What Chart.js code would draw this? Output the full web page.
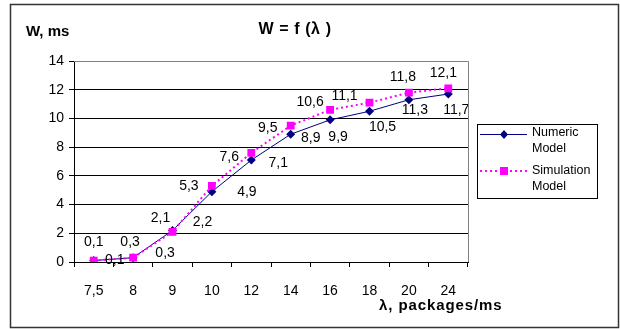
<!DOCTYPE html>
<html>
<head>
<meta charset="utf-8">
<script src="https://cdn.jsdelivr.net/npm/chart.js@4/dist/chart.umd.min.js"></script>
<style>
  html, body { margin: 0; padding: 0; background: #fff; }
  #wrap { position: relative; width: 620px; height: 329px; }
  canvas { display: block; }
</style>
</head>
<body>
<div id="wrap"><canvas id="c" width="620" height="329"></canvas></div>
<script>
// Arrival rate λ (packages/ms) and mean waiting time W (ms)
const lambdaLabels = ['7,5', '8', '9', '10', '12', '14', '16', '18', '20', '24'];
const numericModel = [0.1, 0.3, 2.2, 4.9, 7.1, 8.9, 9.9, 10.5, 11.3, 11.7];
const simulationModel = [0.1, 0.3, 2.1, 5.3, 7.6, 9.5, 10.6, 11.1, 11.8, 12.1];
const yTicks = [0, 2, 4, 6, 8, 10, 12, 14];

const FONT = '"Liberation Sans", Arial, sans-serif';
const NAVY = '#000080';
const MAGENTA = '#FF00FF';

const fmt = v => String(v).replace('.', ',');

// Value labels, drawn next to each point; nudges keep them clear of the lines
const valueLabels = {
  id: 'valueLabels',
  afterDatasetsDraw(chart, args, opts) {
    const ctx = chart.ctx;
    ctx.save();
    ctx.font = '14px ' + FONT;
    ctx.fillStyle = '#000';
    ctx.textAlign = 'center';
    ctx.textBaseline = 'middle';
    chart.data.datasets.forEach((ds, di) => {
      const meta = chart.getDatasetMeta(di);
      const nudge = opts.nudges[ds.key];
      meta.data.forEach((pt, i) => {
        const [dx, dy] = nudge[i];
        ctx.fillText(fmt(ds.data[i]), pt.x + dx, pt.y + dy);
      });
    });
    ctx.restore();
  }
};

// Frame, titles and the boxed legend
const decorations = {
  id: 'decorations',
  beforeDraw(chart) {
    const ctx = chart.ctx;
    ctx.save();
    ctx.fillStyle = '#fff';
    ctx.fillRect(0, 0, chart.width, chart.height);
    ctx.restore();
  },
  afterDraw(chart) {
    const ctx = chart.ctx;
    const area = chart.chartArea;
    ctx.save();
    // outer frame
    ctx.strokeStyle = '#333';
    ctx.lineWidth = 1.5;
    ctx.strokeRect(10.5, 4.5, 608, 323);

    // plot border (top and right)
    ctx.strokeStyle = '#808080';
    ctx.lineWidth = 1;
    ctx.beginPath();
    ctx.moveTo(area.left, Math.round(area.top) + 0.5);
    ctx.lineTo(Math.round(area.right) + 0.5, Math.round(area.top) + 0.5);
    ctx.lineTo(Math.round(area.right) + 0.5, area.bottom);
    ctx.stroke();

    ctx.fillStyle = '#000';
    ctx.textBaseline = 'middle';
    // chart title
    ctx.font = 'bold 16px ' + FONT;
    ctx.letterSpacing = '0.6px';
    ctx.textAlign = 'center';
    ctx.fillText('W = f (λ )', 295, 30);
    // axis titles
    ctx.font = 'bold 15px ' + FONT;
    ctx.textAlign = 'left';
    ctx.letterSpacing = '0px';
    ctx.fillText('W, ms', 26, 32);
    ctx.letterSpacing = '0.9px';
    ctx.fillText('λ, packages/ms', 379, 306);
    ctx.letterSpacing = '0px';

    // legend
    const lx = 477, ly = 124, lw = 120, lh = 74;
    ctx.strokeStyle = '#000';
    ctx.lineWidth = 1;
    ctx.strokeRect(lx + 0.5, ly + 0.5, lw, lh);
    ctx.font = '12.5px ' + FONT;
    // numeric entry
    ctx.strokeStyle = NAVY;
    ctx.beginPath();
    ctx.moveTo(480, 134.5); ctx.lineTo(527, 134.5); ctx.stroke();
    ctx.fillStyle = NAVY;
    ctx.beginPath();
    ctx.moveTo(504, 130); ctx.lineTo(508, 134.5); ctx.lineTo(504, 139); ctx.lineTo(500, 134.5);
    ctx.closePath(); ctx.fill();
    // simulation entry
    ctx.strokeStyle = MAGENTA;
    ctx.lineWidth = 2;
    ctx.setLineDash([2, 3]);
    ctx.beginPath();
    ctx.moveTo(480, 171); ctx.lineTo(527, 171); ctx.stroke();
    ctx.setLineDash([]);
    ctx.fillStyle = MAGENTA;
    ctx.fillRect(500, 167, 8, 8);
    ctx.fillStyle = '#000';
    ctx.fillText('Numeric', 532, 133);
    ctx.fillText('Model', 532, 149);
    ctx.fillText('Simulation', 532, 171);
    ctx.fillText('Model', 532, 187);
    ctx.restore();
  }
};

new Chart(document.getElementById('c'), {
  type: 'line',
  data: {
    labels: lambdaLabels,
    datasets: [
      {
        key: 'sim',
        label: 'Simulation Model',
        data: simulationModel,
        borderColor: MAGENTA,
        backgroundColor: MAGENTA,
        borderWidth: 2,
        borderDash: [2, 3],
        pointStyle: 'rect',
        pointRadius: 5.5,
        pointBorderWidth: 0,
        tension: 0
      },
      {
        key: 'num',
        label: 'Numeric Model',
        data: numericModel,
        borderColor: NAVY,
        backgroundColor: NAVY,
        borderWidth: 1,
        pointStyle: 'rectRot',
        pointRadius: 4.5,
        pointBorderWidth: 0,
        tension: 0
      }
    ]
  },
  options: {
    responsive: false,
    animation: false,
    layout: { padding: { left: 10, right: 152, top: 61, bottom: 0 } },
    plugins: {
      legend: { display: false },
      title: { display: false },
      tooltip: { enabled: false },
      valueLabels: {
        nudges: {
          num: [[21, 0], [32, -5], [30, -8], [35, 0], [27, 3], [20, 4], [8, 17], [13, 16], [6, 10], [8, 16]],
          sim: [[0, -18], [-3, -16], [-12, -14], [-23, 0], [-22, 4], [-23, 3], [-20, -8], [-25, -6], [-6, -15], [-5, -15]]
        }
      }
    },
    scales: {
      x: {
        type: 'category',
        offset: true,
        afterFit(scale) { scale.height = 67; },
        grid: {
          offset: true,
          drawOnChartArea: false,
          drawTicks: true,
          tickLength: 5,
          color: '#000'
        },
        border: { color: '#000', width: 1 },
        ticks: {
          color: '#000',
          font: { family: FONT, size: 14 },
          padding: 16,
          maxRotation: 0,
          autoSkip: false
        }
      },
      y: {
        min: 0,
        max: 14,
        afterFit(scale) { scale.width = 64; },
        afterBuildTicks(scale) { scale.ticks = yTicks.map(v => ({ value: v })); },
        grid: {
          color: '#000',
          lineWidth: 1,
          drawTicks: true,
          tickLength: 5
        },
        border: { color: '#000', width: 1 },
        ticks: {
          color: '#000',
          font: { family: FONT, size: 14 },
          padding: 5
        }
      }
    }
  },
  plugins: [decorations, valueLabels]
});
</script>
</body>
</html>
